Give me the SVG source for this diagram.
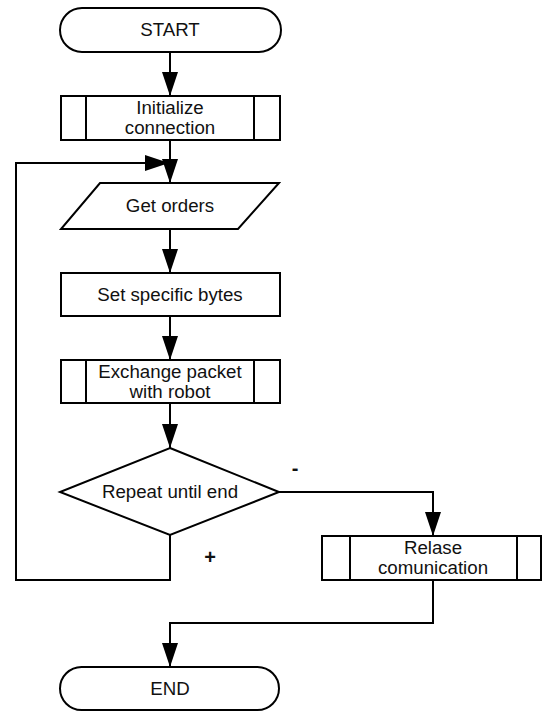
<svg xmlns="http://www.w3.org/2000/svg" width="542" height="711" viewBox="0 0 542 711">
<style>
.s{fill:#fff;stroke:#000;stroke-width:2}
.l{fill:none;stroke:#000;stroke-width:2}
text{font-family:"Liberation Sans",Arial,sans-serif;font-size:18.7px;fill:#111;text-anchor:middle;dominant-baseline:central}
.c{fill:none;stroke:#000;stroke-width:2}
.g{font-size:20px;font-weight:bold}
</style>
<defs>
<marker id="a" markerUnits="userSpaceOnUse" viewBox="0 0 24 16" markerWidth="24" markerHeight="16" refX="24" refY="8" orient="auto">
<path d="M0,0 L24,8 L0,16 z" fill="#000"/>
</marker>
</defs>
<rect width="542" height="711" fill="#fff"/>
<g id="connectors">
<path class="c" d="M170,52 V96" marker-end="url(#a)"/>
<path class="c" d="M170,140 V183" marker-end="url(#a)"/>
<path class="c" d="M170,535 V580 H16 V163 H169" marker-end="url(#a)"/>
<path class="c" d="M170,229 V273" marker-end="url(#a)"/>
<path class="c" d="M170,316 V360" marker-end="url(#a)"/>
<path class="c" d="M170,403 V448" marker-end="url(#a)"/>
<path class="c" d="M279,492 H433 V536" marker-end="url(#a)"/>
<path class="c" d="M433,580 V623 H170 V667" marker-end="url(#a)"/>
<text class="g" x="210" y="557">+</text>
<text class="g" x="295" y="468">-</text>
</g>
<g id="start">
<rect class="s" x="60" y="8" width="221" height="44" rx="22"/>
<text x="170" y="29">START</text>
</g>
<g id="init">
<rect class="s" x="61" y="96" width="219" height="44"/>
<path class="l" d="M86,96 V140 M254,96 V140"/>
<text x="170" y="107">Initialize</text>
<text x="170" y="127">connection</text>
</g>
<g id="getorders">
<path class="s" d="M100,183 H279 L238,229 H61 Z"/>
<text x="170" y="205">Get orders</text>
</g>
<g id="setbytes">
<rect class="s" x="61" y="273" width="219" height="43"/>
<text x="170" y="294">Set specific bytes</text>
</g>
<g id="exchange">
<rect class="s" x="61" y="360" width="219" height="43"/>
<path class="l" d="M86,360 V403 M254,360 V403"/>
<text x="170" y="371">Exchange packet</text>
<text x="170" y="391">with robot</text>
</g>
<g id="decision">
<path class="s" d="M170,448 L279,492 L170,535 L60,492 Z"/>
<text x="170" y="491">Repeat until end</text>
</g>
<g id="release">
<rect class="s" x="322" y="536" width="219" height="44"/>
<path class="l" d="M350,536 V580 M517,536 V580"/>
<text x="433" y="547">Relase</text>
<text x="433" y="567">comunication</text>
</g>
<g id="end">
<rect class="s" x="60" y="667" width="219" height="43" rx="21.5"/>
<text x="170" y="688">END</text>
</g>
</svg>
